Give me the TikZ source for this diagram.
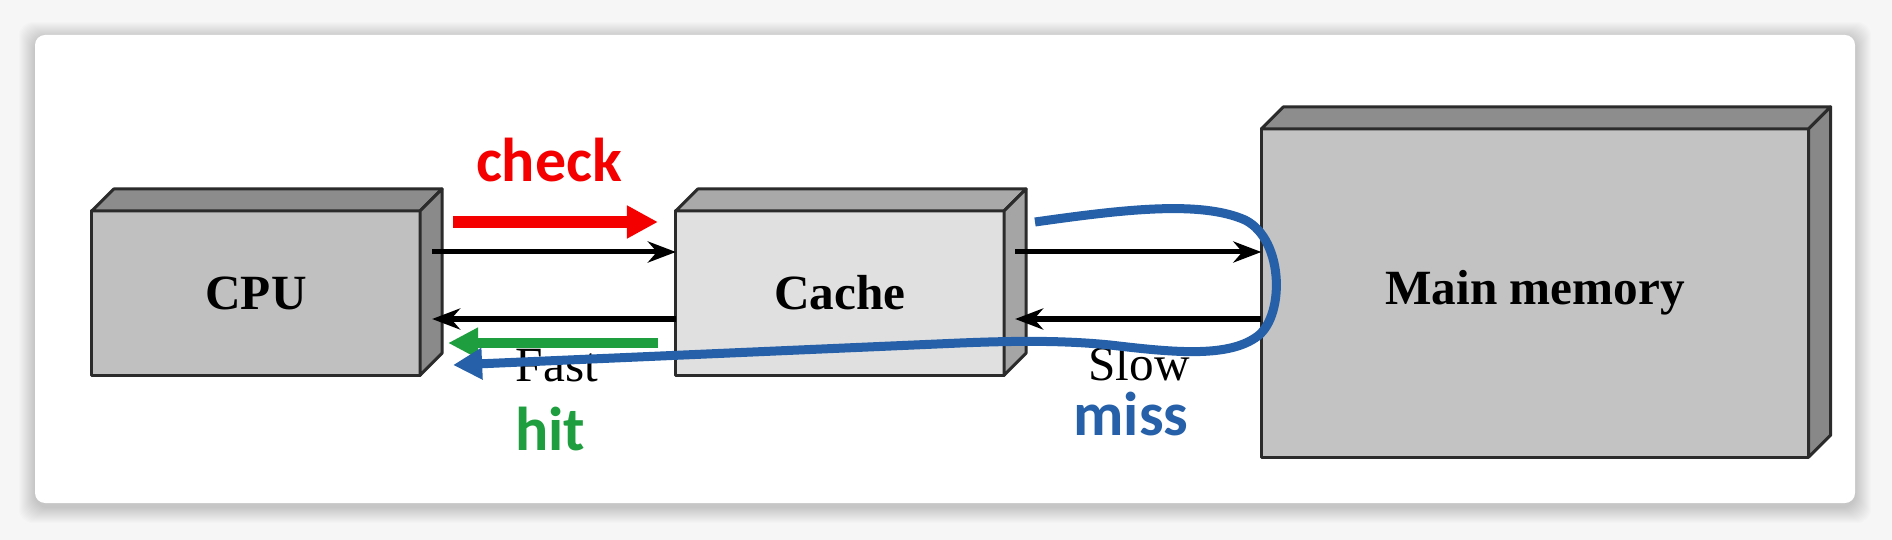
\documentclass[tikz,border=0pt]{standalone}
\usepackage{fontspec}
\setmainfont{Liberation Serif}
\newfontfamily\calib{Carlito}
\usetikzlibrary{arrows.meta,calc}
\definecolor{pagebg}{HTML}{F6F6F6}
\definecolor{outl}{HTML}{2B2B2B}
\definecolor{cpufront}{HTML}{C0C0C0}
\definecolor{cputop}{HTML}{8C8C8C}
\definecolor{cpuside}{HTML}{8A8A8A}
\definecolor{cachefront}{HTML}{E0E0E0}
\definecolor{cachetop}{HTML}{A9A9A9}
\definecolor{cacheside}{HTML}{A5A5A5}
\definecolor{mmfront}{HTML}{C3C3C3}
\definecolor{mmtop}{HTML}{8D8D8D}
\definecolor{mmside}{HTML}{888888}
\definecolor{hitgreen}{RGB}{30,158,62}
\definecolor{missblue}{RGB}{38,96,168}
\definecolor{checkred}{RGB}{245,0,0}
\newcommand\threedfaces[3]{%
  \filldraw[facedraw, fill=#2] (#1.north west) -- ++(22,-22) -- ($(#1.north east)+(22,-22)$) -- (#1.north east) -- cycle;
  \filldraw[facedraw, fill=#3] (#1.north east) -- ++(22,-22) -- ($(#1.south east)+(22,-22)$) -- (#1.south east) -- cycle;}
\begin{document}
\begin{tikzpicture}[x=0.01cm,y=-0.01cm,
  facedraw/.style={draw=outl, line width=0.03cm, line join=round},
  frontface/.style={facedraw, rectangle, outer sep=0pt, inner sep=0pt,
    font=\bfseries\fontsize{14}{16}\selectfont},
  blk/.style={line width=0.05cm, -{Stealth[length=0.28cm,width=0.21cm,inset=0.09cm]}},
  redarr/.style={draw=checkred, line width=0.12cm, -{Triangle[length=0.31cm,width=0.31cm]}},
  greenarr/.style={draw=hitgreen, line width=0.105cm, -{Triangle[length=0.3cm,width=0.29cm]}},
  bluearr/.style={draw=missblue, line width=0.09cm, -{Triangle[length=0.29cm,width=0.3cm]}},
  lbl/.style={font=\calib\bfseries\fontsize{17.6}{20}\selectfont, anchor=base, inner sep=0pt},
  speed/.style={font=\fontsize{14}{16}\selectfont, anchor=base, inner sep=0pt}]
\useasboundingbox (0,0) rectangle (1892,540);
\fill[pagebg] (0,0) rectangle (1892,540);
% card shadow
\foreach \i in {1,...,16}{
  \fill[black, opacity=0.011, rounded corners=0.14cm] (35-\i,38-\i) rectangle (1855+\i,507+\i);
}
\fill[white, rounded corners=0.1cm] (35,35) rectangle (1855,503);
% boxes
\node[frontface, fill=cpufront, minimum width=3.28cm, minimum height=1.64cm] (cpu) at (256,293) {CPU};
\threedfaces{cpu}{cputop}{cpuside}
\node[frontface, fill=cachefront, minimum width=3.28cm, minimum height=1.64cm] (cache) at (840,293) {Cache};
\threedfaces{cache}{cachetop}{cacheside}
\node[frontface, fill=mmfront, minimum width=5.47cm, minimum height=3.28cm] (mm) at (1535,293) {Main memory};
\threedfaces{mm}{mmtop}{mmside}
% black connectors
\draw[blk] ($(cpu.east)+(12,-41)$) -- ($(cache.west)+(0,-41)$);
\draw[blk] ($(cache.west)+(0,26)$) -- ($(cpu.east)+(12,26)$);
\draw[blk] ($(cache.east)+(11,-41)$) -- ($(mm.west)+(0,-41)$);
\draw[blk] ($(mm.west)+(0,26)$) -- ($(cache.east)+(11,26)$);
% speed labels
\node[speed] (fast) at (557,381) {Fast};
\node[speed] (slow) at (1139,380) {Slow};
% coloured annotations
\draw[redarr] ($(cpu.east)+(33,-71)$) -- ($(cache.west)+(-18,-71)$);
\draw[greenarr] ($(cache.west)+(-18,50)$) -- ($(cpu.east)+(28,50)$);
\coordinate (missstart) at (1035,222);
\coordinate (missend) at ($(cpu.east)+(33,72)$);
\draw[bluearr, line cap=butt] (missstart) .. controls (1120,210) and (1200,200) .. (1245,220)
  .. controls (1285,240) and (1285,320) .. (1255,338)
  .. controls (1225,358) and (1170,352) .. (1110,345)
  .. controls (1060,340) and (1010,341) .. (960,343)
  -- (missend);
\node[lbl, text=checkred] (check) at (549,182) {check};
\node[lbl, text=hitgreen] (hit) at (550,450) {hit};
\node[lbl, text=missblue] (miss) at (1131,435) {miss};
\end{tikzpicture}
\end{document}
